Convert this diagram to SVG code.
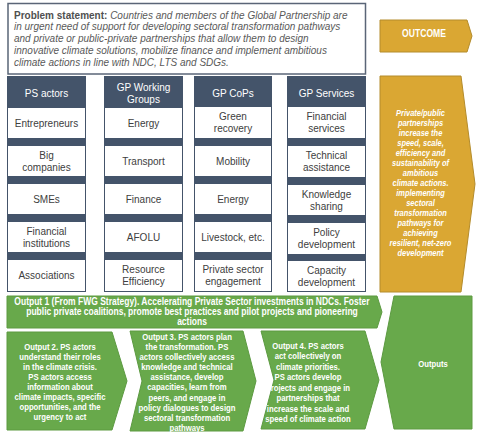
<svg xmlns="http://www.w3.org/2000/svg" width="479" height="437" viewBox="0 0 479 437">
<style>
.col{fill:#44546a}
.cell{fill:#ffffff}
.ct{font-family:"Liberation Sans",Arial,sans-serif;font-size:10px;fill:#404040;text-anchor:middle}
.ht{font-family:"Liberation Sans",Arial,sans-serif;font-size:10px;fill:#ffffff;text-anchor:middle}
.grn{fill:#68a94b;stroke:#5c9a41;stroke-width:1}
.gold{fill:#daa733;stroke:#b48c2c;stroke-width:1}
.wt{font-family:"Liberation Sans",Arial,sans-serif;font-weight:bold;fill:#ffffff;text-anchor:middle}
.gt{font-family:"Liberation Sans",Arial,sans-serif;font-weight:bold;font-style:italic;font-size:9px;fill:#ffffff;text-anchor:middle}
.ps{font-family:"Liberation Sans",Arial,sans-serif;font-size:10px;fill:#595959}
</style>
<rect width="479" height="437" fill="#ffffff"/>

<g id="problem">
<rect x="8" y="3.5" width="357.5" height="70.5" fill="#ffffff" stroke="#5a6577" stroke-width="1.5"/>
<text class="ps" x="14" y="18.5"><tspan font-weight="bold" fill="#4f4f4f">Problem statement:</tspan><tspan font-style="italic"> Countries and members of the Global Partnership are</tspan></text>
<text class="ps" x="14" y="30.3" font-style="italic">in urgent need of support for developing sectoral transformation pathways</text>
<text class="ps" x="14" y="42.1" font-style="italic">and private  or public-private partnerships that allow them to design</text>
<text class="ps" x="14" y="53.9" font-style="italic">innovative climate solutions, mobilize finance and implement ambitious</text>
<text class="ps" x="14" y="65.7" font-style="italic">climate actions in line with NDC, LTS and SDGs.</text>
</g>

<g id="outcome-label">
<polygon class="gold" points="380,20 467,20 472,36 467,52 380,52"/>
<g transform="translate(424,0) scale(0.86,1)"><text class="wt" x="0" y="37.5" font-size="10">OUTCOME</text></g>
</g>

<g id="col-ps-actors">
<rect class="col" x="7" y="76" width="79" height="216"/>
<text class="ht" x="46.5" y="96.5">PS actors</text>
<rect class="cell" x="8" y="108" width="77" height="30"/>
<text class="ct" x="46.5" y="127">Entrepreneurs</text>
<rect class="cell" x="8" y="146" width="77" height="30"/>
<text class="ct" x="46.5" y="159">Big</text><text class="ct" x="46.5" y="171">companies</text>
<rect class="cell" x="8" y="184" width="77" height="30"/>
<text class="ct" x="46.5" y="203">SMEs</text>
<rect class="cell" x="8" y="222" width="77" height="30"/>
<text class="ct" x="46.5" y="235">Financial</text><text class="ct" x="46.5" y="247">institutions</text>
<rect class="cell" x="8" y="260" width="77" height="31"/>
<text class="ct" x="46.5" y="279">Associations</text>
</g>

<g id="col-gp-working-groups">
<rect class="col" x="104" y="76" width="79" height="216"/>
<text class="ht" x="143.5" y="91">GP Working</text><text class="ht" x="143.5" y="103">Groups</text>
<rect class="cell" x="105" y="108" width="77" height="30"/>
<text class="ct" x="143.5" y="127">Energy</text>
<rect class="cell" x="105" y="146" width="77" height="30"/>
<text class="ct" x="143.5" y="165">Transport</text>
<rect class="cell" x="105" y="184" width="77" height="30"/>
<text class="ct" x="143.5" y="203">Finance</text>
<rect class="cell" x="105" y="222" width="77" height="30"/>
<text class="ct" x="143.5" y="241">AFOLU</text>
<rect class="cell" x="105" y="260" width="77" height="31"/>
<text class="ct" x="143.5" y="273">Resource</text><text class="ct" x="143.5" y="285">Efficiency</text>
</g>

<g id="col-gp-cops">
<rect class="col" x="194" y="76" width="78" height="216"/>
<text class="ht" x="233" y="96.5">GP CoPs</text>
<rect class="cell" x="195" y="107" width="76" height="31"/>
<text class="ct" x="233" y="120">Green</text><text class="ct" x="233" y="132">recovery</text>
<rect class="cell" x="195" y="146" width="76" height="30"/>
<text class="ct" x="233" y="165">Mobility</text>
<rect class="cell" x="195" y="184" width="76" height="30"/>
<text class="ct" x="233" y="203">Energy</text>
<rect class="cell" x="195" y="222" width="76" height="30"/>
<text class="ct" x="233" y="241">Livestock, etc.</text>
<rect class="cell" x="195" y="260" width="76" height="31"/>
<text class="ct" x="233" y="273">Private sector</text><text class="ct" x="233" y="285">engagement</text>
</g>

<g id="col-gp-services">
<rect class="col" x="287" y="76" width="79" height="216"/>
<text class="ht" x="326.5" y="96.5">GP Services</text>
<rect class="cell" x="288" y="107" width="77" height="31"/>
<text class="ct" x="326.5" y="120">Financial</text><text class="ct" x="326.5" y="132">services</text>
<rect class="cell" x="288" y="146" width="77" height="31"/>
<text class="ct" x="326.5" y="159">Technical</text><text class="ct" x="326.5" y="171">assistance</text>
<rect class="cell" x="288" y="185" width="77" height="30"/>
<text class="ct" x="326.5" y="197.5">Knowledge</text><text class="ct" x="326.5" y="209.5">sharing</text>
<rect class="cell" x="288" y="223" width="77" height="31"/>
<text class="ct" x="326.5" y="236">Policy</text><text class="ct" x="326.5" y="248">development</text>
<rect class="cell" x="288" y="261" width="77" height="30"/>
<text class="ct" x="326.5" y="273.5">Capacity</text><text class="ct" x="326.5" y="285.5">development</text>
</g>

<g id="outcome">
<polygon class="gold" points="380,76 461,76 475,184 461,292 380,292"/>
<g transform="translate(420.5,0) scale(0.83,1)">
<text class="gt" x="0" y="116">Private/public</text>
<text class="gt" x="0" y="126">partnerships</text>
<text class="gt" x="0" y="136">increase the</text>
<text class="gt" x="0" y="146">speed, scale,</text>
<text class="gt" x="0" y="156">efficiency and</text>
<text class="gt" x="0" y="166">sustainability of</text>
<text class="gt" x="0" y="176">ambitious</text>
<text class="gt" x="0" y="186">climate actions.</text>
<text class="gt" x="0" y="196">implementing</text>
<text class="gt" x="0" y="206">sectoral</text>
<text class="gt" x="0" y="216">transformation</text>
<text class="gt" x="0" y="226">pathways for</text>
<text class="gt" x="0" y="236">achieving</text>
<text class="gt" x="0" y="246">resilient, net-zero</text>
<text class="gt" x="0" y="256">development</text>
</g>
</g>

<g id="output1">
<polygon class="grn" points="7,296 377,296 382,312 377,328 7,328"/>
<g transform="translate(192,0) scale(0.85,1)">
<text class="wt" x="0" y="305.5" font-size="10">Output 1 (From FWG Strategy). Accelerating Private Sector investments in NDCs. Foster</text>
<text class="wt" x="0" y="315.5" font-size="10">public private coalitions, promote best practices and pilot projects and pioneering</text>
<text class="wt" x="0" y="325.5" font-size="10">actions</text>
</g>
</g>

<g id="output2">
<polygon class="grn" points="7,332 112,332 127,381 112,430 7,430"/>
<g transform="translate(60,0) scale(0.86,1)" font-size="9">
<text class="wt" x="0" y="350">Output 2. PS actors</text>
<text class="wt" x="0" y="360">understand their roles</text>
<text class="wt" x="0" y="370">in the climate crisis.</text>
<text class="wt" x="0" y="380">PS actors access</text>
<text class="wt" x="0" y="390">information about</text>
<text class="wt" x="0" y="400">climate impacts, specific</text>
<text class="wt" x="0" y="410">opportunities, and the</text>
<text class="wt" x="0" y="420">urgency to act</text>
</g>
</g>

<g id="output3">
<polygon class="grn" points="130,331 243,331 256,381 243,431 130,431 142,381"/>
<g transform="translate(187,0) scale(0.86,1)" font-size="9">
<text class="wt" x="0" y="340">Output 3. PS actors plan</text>
<text class="wt" x="0" y="350.1">the transformation. PS</text>
<text class="wt" x="0" y="360.2">actors collectively access</text>
<text class="wt" x="0" y="370.3">knowledge and technical</text>
<text class="wt" x="0" y="380.4">assistance, develop</text>
<text class="wt" x="0" y="390.5">capacities, learn from</text>
<text class="wt" x="0" y="400.6">peers, and engage in</text>
<text class="wt" x="0" y="410.7">policy dialogues to design</text>
<text class="wt" x="0" y="420.8">sectoral transformation</text>
<text class="wt" x="0" y="430.9">pathways</text>
</g>
</g>

<g id="output4">
<polygon class="grn" points="261,331 365,331 379,380 365,429 261,429 274,380"/>
<g transform="translate(308,0) scale(0.86,1)" font-size="9">
<text class="wt" x="0" y="349">Output 4. PS actors</text>
<text class="wt" x="0" y="359.5">act collectively on</text>
<text class="wt" x="0" y="370">climate priorities.</text>
<text class="wt" x="0" y="380.5">PS actors develop</text>
<text class="wt" x="0" y="391">projects and engage in</text>
<text class="wt" x="0" y="401.5">partnerships that</text>
<text class="wt" x="0" y="412">increase the scale and</text>
<text class="wt" x="0" y="422.5">speed of climate action</text>
</g>
</g>

<g id="outputs">
<polygon class="grn" points="394,296 472,296 472,429 394,429 381,362"/>
<g transform="translate(433,0) scale(0.86,1)"><text class="wt" x="0" y="367" font-size="9">Outputs</text></g>
</g>

<g id="connectors"></g>
</svg>
